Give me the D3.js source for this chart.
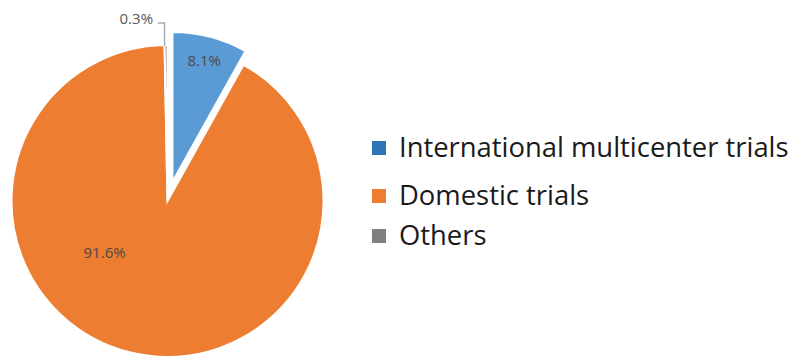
<!DOCTYPE html>
<html>
<head>
<meta charset="utf-8">
<script src="https://cdn.jsdelivr.net/npm/d3@7"></script>
<style>
  html, body { margin: 0; padding: 0; background: #fff; }
  svg { display: block; }
</style>
</head>
<body>
<svg id="chart" width="798" height="360"></svg>
<script>
// Share of trials by type
const categories = ["International multicenter trials", "Domestic trials", "Others"];
const shares = [8.1, 91.6, 0.3];
const valueLabels = ["8.1%", "91.6%", "0.3%"];
const sliceColors = ["#5b9bd5", "#ed7d31", "#8c8c8c"];
const legendColors = ["#2e75b6", "#ed7d31", "#7f7f7f"];

const svg = d3.select("#chart");
const cx = 167.5, cy = 201, radius = 156;

const pie = d3.pie().sort(null).value(d => d);
const arcs = pie(shares);

// Outward offset and radius per slice (the first slice is pulled out)
const explode = [19.6, 0, 0];
const radii = [150, radius, radius];

const g = svg.append("g").attr("transform", `translate(${cx},${cy})`);

function polar(angle, r) {
  return [Math.sin(angle) * r, -Math.cos(angle) * r];
}
function offset(a, d) {
  return polar((a.startAngle + a.endAngle) / 2, d);
}

const slices = g.selectAll("g.slice").data(arcs).join("g")
  .attr("class", "slice")
  .attr("transform", (a, i) => {
    const [dx, dy] = offset(a, explode[i]);
    return `translate(${dx},${dy})`;
  });

slices.append("path")
  .attr("d", (a, i) => d3.arc().innerRadius(0).outerRadius(radii[i])(a))
  .attr("fill", (a, i) => sliceColors[i])
  .attr("stroke", "#fff")
  .attr("stroke-width", 2)
  .attr("stroke-linejoin", "miter");

// Value labels inside the large slices
const labelFont = "'Open Sans', 'DejaVu Sans', sans-serif";
// blue label sits on its slice's bisector; the orange one lower-left inside the slice
const labelPos = [
  (() => { const a = arcs[0]; const o = offset(a, explode[0]);
           const p = polar((a.startAngle + a.endAngle) / 2, 126);
           return [p[0] + o[0], p[1] + o[1]]; })(),
  polar(arcs[1].startAngle + (arcs[1].endAngle - arcs[1].startAngle) * 0.612, 81)
];
[0, 1].forEach(i => {
  g.append("text")
    .attr("x", labelPos[i][0])
    .attr("y", labelPos[i][1])
    .attr("text-anchor", "middle")
    .attr("dominant-baseline", "central")
    .attr("font-family", labelFont)
    .attr("font-size", 15)
    .attr("fill", "#4a4a4a")
    .text(valueLabels[i]);
});

// Small slice: label outside with a leader line
{
  const a = arcs[2];
  const mid = (a.startAngle + a.endAngle) / 2;
  const tip = polar(mid, radius - 1);
  const elbow = [tip[0] - 1.5, -cy + 23];
  const end = [elbow[0] - 6.5, elbow[1]];
  g.append("path")
    .attr("d", d3.line()([[elbow[0], tip[1]], elbow, end]))
    .attr("fill", "none")
    .attr("stroke", "#a6a6a6")
    .attr("stroke-width", 1.3);
  g.append("text")
    .attr("x", end[0] - 5)
    .attr("y", end[1] - 5)
    .attr("text-anchor", "end")
    .attr("dominant-baseline", "central")
    .attr("font-family", labelFont)
    .attr("font-size", 15)
    .attr("fill", "#595959")
    .text(valueLabels[2]);
}

// Legend
const legendX = 372;
const legendRows = [141, 189, 229];
const legend = svg.append("g");
categories.forEach((c, i) => {
  const row = legend.append("g").attr("transform", `translate(${legendX},${legendRows[i]})`);
  row.append("rect")
    .attr("width", 14).attr("height", 14)
    .attr("fill", legendColors[i]);
  row.append("text")
    .attr("x", 27)
    .attr("y", 16)
    .attr("font-family", labelFont)
    .attr("font-size", 27.4)
    .attr("fill", "#1a1a1a")
    .text(c);
});
</script>
</body>
</html>
